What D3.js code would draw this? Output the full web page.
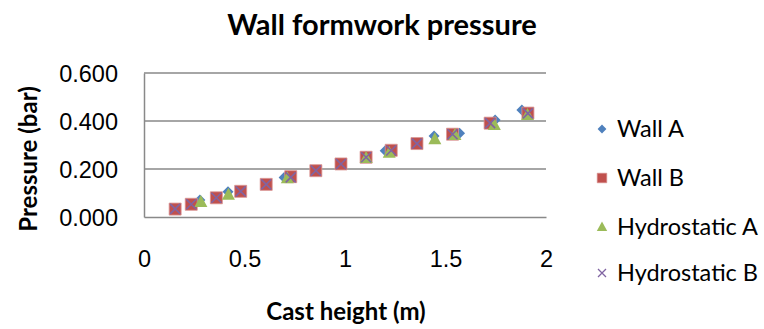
<!DOCTYPE html>
<html>
<head>
<meta charset="utf-8">
<script src="https://cdn.jsdelivr.net/npm/d3@7"></script>
<style>
  html, body { margin: 0; padding: 0; background: #fff; }
  svg { display: block; font-family: Lato, "Open Sans", "Liberation Sans", sans-serif; }
</style>
</head>
<body>
<svg id="chart" width="764" height="329"></svg>
<script>
// Cast height (m) and pressure (bar) for each series
const wallA_x = [0.278, 0.418, 0.697, 1.105, 1.200, 1.443, 1.570, 1.747, 1.880];
const wallA_y = [0.071, 0.105, 0.165, 0.250, 0.276, 0.337, 0.349, 0.404, 0.446];

const wallB_x = [0.155, 0.235, 0.360, 0.481, 0.608, 0.730, 0.855, 0.980, 1.105, 1.230, 1.358, 1.535, 1.722, 1.910];
const wallB_y = [0.033, 0.053, 0.080, 0.107, 0.136, 0.168, 0.193, 0.221, 0.249, 0.278, 0.306, 0.345, 0.391, 0.433];

const hydroA_x = [0.283, 0.420, 0.713, 1.105, 1.220, 1.447, 1.547, 1.743, 1.908];
const hydroA_y = [0.062, 0.093, 0.161, 0.246, 0.268, 0.324, 0.342, 0.383, 0.425];

const hydroB_x = [0.155, 0.235, 0.360, 0.481, 0.608, 0.730, 0.855, 0.980, 1.105, 1.230, 1.358, 1.535, 1.722, 1.910];
const hydroB_y = [0.034, 0.053, 0.080, 0.107, 0.136, 0.165, 0.193, 0.221, 0.249, 0.277, 0.306, 0.345, 0.391, 0.432];

const seriesNames = ["Wall A", "Wall B", "Hydrostatic A", "Hydrostatic B"];
const xTicks = [0, 0.5, 1, 1.5, 2];
const yTicks = [0, 0.2, 0.4, 0.6];

const series = [
  { name: seriesNames[0], xs: wallA_x, ys: wallA_y, shape: "diamond", color: "#4F81BD" },
  { name: seriesNames[1], xs: wallB_x, ys: wallB_y, shape: "square", color: "#C0504D" },
  { name: seriesNames[2], xs: hydroA_x, ys: hydroA_y, shape: "triangle", color: "#9BBB59" },
  { name: seriesNames[3], xs: hydroB_x, ys: hydroB_y, shape: "cross", color: "#8064A2" }
];

const svg = d3.select("#chart");
const plot = { left: 144, right: 546, top: 73, bottom: 217 };

const x = d3.scaleLinear().domain([0, 2]).range([plot.left, plot.right]);
const y = d3.scaleLinear().domain([0, 0.6]).range([plot.bottom, plot.top]);

const gridColor = "#898989";

// horizontal gridlines
svg.append("g")
  .selectAll("line")
  .data(yTicks.filter(d => d > 0))
  .join("line")
  .attr("x1", plot.left).attr("x2", plot.right)
  .attr("y1", d => y(d)).attr("y2", d => y(d))
  .attr("stroke", gridColor).attr("stroke-width", 1.5);

// y axis
const yAxis = svg.append("g")
  .attr("transform", `translate(${plot.left},0)`)
  .call(d3.axisLeft(y).tickValues(yTicks).tickFormat(d3.format(".3f")).tickSize(0).tickPadding(26));
yAxis.select(".domain").attr("stroke", gridColor).attr("stroke-width", 1.5);
yAxis.selectAll("text").attr("font-size", 23.5).attr("fill", "#000").attr("dy", "0.35em");

// x axis
const xAxis = svg.append("g")
  .attr("transform", `translate(0,${plot.bottom})`)
  .call(d3.axisBottom(x).tickValues(xTicks).tickFormat(d3.format("")).tickSize(0).tickPadding(33));
xAxis.select(".domain").attr("stroke", gridColor).attr("stroke-width", 1.5);
xAxis.selectAll("text").attr("font-size", 23.5).attr("fill", "#000");

// marker shapes
function markerPath(shape) {
  switch (shape) {
    case "diamond": return "M0,-5.5L5.5,0L0,5.5L-5.5,0Z";
    case "square": return "M-6,-6H6V6H-6Z";
    case "triangle": return "M0,-7L6.5,5H-6.5Z";
    case "cross": return "M-5,-5L5,5M-5,5L5,-5";
  }
}

function drawMarker(g, s) {
  if (s.shape === "cross") {
    g.append("path").attr("d", markerPath(s.shape))
      .attr("fill", "none").attr("stroke", s.color).attr("stroke-width", 1.6);
  } else if (s.shape === "square") {
    g.append("path").attr("d", markerPath(s.shape))
      .attr("fill", s.color).attr("stroke", "#D99694").attr("stroke-width", 0.8);
  } else {
    g.append("path").attr("d", markerPath(s.shape)).attr("fill", s.color);
  }
}

// points
series.forEach(s => {
  const pts = s.xs.map((v, i) => [v, s.ys[i]]);
  svg.append("g")
    .selectAll("g")
    .data(pts)
    .join("g")
    .attr("transform", d => `translate(${x(d[0])},${y(d[1])})`)
    .each(function () { drawMarker(d3.select(this), s); });
});

// title
svg.append("text")
  .attr("x", 382).attr("y", 35)
  .attr("text-anchor", "middle")
  .attr("font-size", 29).attr("font-weight", "bold")
  .text("Wall formwork pressure");

// axis titles
svg.append("text")
  .attr("x", 346).attr("y", 320)
  .attr("text-anchor", "middle")
  .attr("font-size", 24).attr("font-weight", "bold")
  .text("Cast height (m)");

svg.append("text")
  .attr("transform", "translate(37,159) rotate(-90)")
  .attr("text-anchor", "middle")
  .attr("font-size", 24).attr("font-weight", "bold")
  .text("Pressure (bar)");

// legend
const legend = svg.append("g");
const legendY = [129, 178, 227, 273];
series.forEach((s, i) => {
  const g = legend.append("g").attr("transform", `translate(602,${legendY[i]})`);
  const m = g.append("g").attr("transform", "scale(0.8)");
  drawMarker(m, s);
  g.append("text")
    .attr("x", 15).attr("y", 0).attr("dy", "0.35em")
    .attr("font-size", 23.5)
    .text(s.name);
});
</script>
</body>
</html>
